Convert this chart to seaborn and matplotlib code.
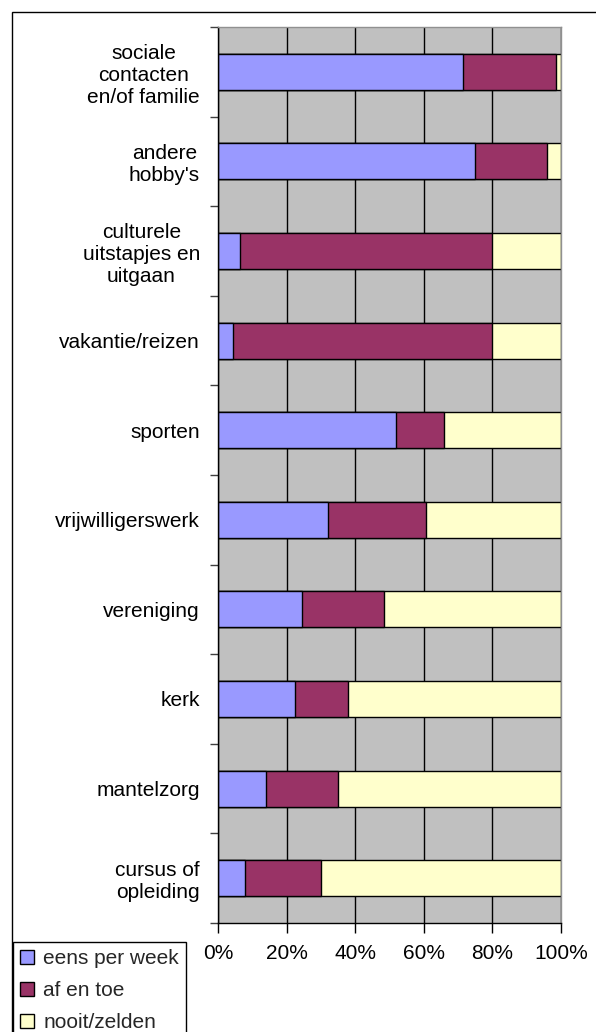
import matplotlib
matplotlib.use('Agg')
import matplotlib.pyplot as plt
import seaborn as sns
import pandas as pd
from matplotlib.patches import Rectangle, Patch
from matplotlib.ticker import FixedLocator

categories = ["sociale\ncontacten\nen/of familie", "andere\nhobby's",
              "culturele\nuitstapjes en\nuitgaan", "vakantie/reizen", "sporten",
              "vrijwilligerswerk", "vereniging", "kerk", "mantelzorg",
              "cursus of\nopleiding"]
eens_per_week = [71.5, 75, 6.5, 4.5, 52, 32, 24.5, 22.5, 14, 8]
af_en_toe = [27, 21, 73.5, 75.5, 14, 28.5, 24, 15.5, 21, 22]
nooit_zelden = [1.5, 4, 20, 20, 34, 39.5, 51.5, 62, 65, 70]
series_names = ["eens per week", "af en toe", "nooit/zelden"]
colors = ["#9999FF", "#993366", "#FFFFCC"]
x_ticks = [0, 20, 40, 60, 80, 100]
x_tick_labels = ["0%", "20%", "40%", "60%", "80%", "100%"]

sns.set_theme(style="white")
plt.rcParams['font.family'] = ['Liberation Sans', 'DejaVu Sans']

df = pd.DataFrame({"cat": categories, "a": eens_per_week, "b": af_en_toe, "c": nooit_zelden})
df["cum1"] = df["a"]
df["cum2"] = df["a"] + df["b"]
df["cum3"] = df["a"] + df["b"] + df["c"]

W, H = 596, 1032
FS = 15
fig = plt.figure(figsize=(W / 100, H / 100), dpi=100)
ax = fig.add_axes([218 / W, 1 - 923 / H, (561 - 218) / W, (923 - 27) / H])
ax.set_facecolor("#C0C0C0")

for col, c in zip(["cum3", "cum2", "cum1"], colors[::-1]):
    sns.barplot(data=df, x=col, y="cat", order=categories, orient="h", color=c,
                width=0.4, edgecolor="black", linewidth=1, saturation=1, ax=ax)

ax.set_xlim(0, 100)
ax.set_ylim(9.5, -0.5)
ax.set_xticks(x_ticks)
ax.set_xticklabels(x_tick_labels)
ax.set_axisbelow(True)
ax.xaxis.grid(True, color="black", lw=1)
ax.yaxis.grid(False)
ax.set_xlabel("")
ax.set_ylabel("")

ax.tick_params(axis="x", direction="out", length=7, width=1, color="black",
               labelsize=FS, pad=8, bottom=True, labelcolor="black")
ax.tick_params(axis="y", which="major", length=0, pad=13, labelsize=FS, labelcolor="black", left=True)
ax.yaxis.set_minor_locator(FixedLocator([i - 0.5 for i in range(len(categories) + 1)]))
ax.tick_params(axis="y", which="minor", direction="out", length=6, width=1, color="#404040", left=True)
for t in ax.get_yticklabels():
    t.set_multialignment("center")

for s in ["left", "bottom"]:
    ax.spines[s].set_color("black")
    ax.spines[s].set_linewidth(1)
for s in ["top", "right"]:
    ax.spines[s].set_color("#909090")
    ax.spines[s].set_linewidth(1)

handles = [Patch(facecolor=c, edgecolor="black", lw=1) for c in colors]
leg = fig.legend(handles, series_names, loc="upper left",
                 bbox_to_anchor=(13 / W, 1 - 942 / H), bbox_transform=fig.transFigure,
                 frameon=True, fancybox=False, edgecolor="black", fontsize=FS,
                 handlelength=0.65, handleheight=0.65, handletextpad=0.45,
                 labelspacing=0.62, borderpad=0.35, borderaxespad=0, framealpha=1)
leg.get_frame().set_linewidth(1)

fig.add_artist(Rectangle((12 / W, -0.1), 1.2, 1 - 12 / H + 0.1, transform=fig.transFigure,
                         fill=False, edgecolor="black", lw=1))

fig.savefig("out.png", dpi=100)
